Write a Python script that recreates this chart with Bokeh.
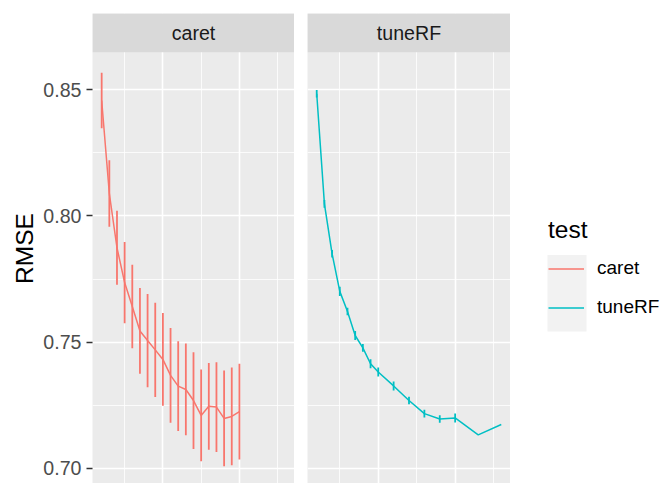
from bokeh.plotting import figure
from bokeh.layouts import row
from bokeh.models import (Range1d, FixedTicker, ColumnDataSource, Label, BoxAnnotation,
                          Legend, LegendItem, NumeralTickFormatter)
from bokeh.embed import file_html
from bokeh.resources import INLINE

# ---------------- data ----------------
panels = ["caret", "tuneRF"]
legend_title = "test"
y_label = "RMSE"

caret_x = [2, 3, 4, 5, 6, 7, 8, 9, 10, 11, 12, 13, 14, 15, 16, 17, 18, 19, 20]
caret_rmse = [0.8458, 0.8089, 0.7874, 0.7736, 0.7641, 0.7544, 0.7506, 0.7469, 0.7431, 0.7368,
              0.7325, 0.7312, 0.7268, 0.7209, 0.7245, 0.7242, 0.7197, 0.7205, 0.7224]
caret_sd = [0.0110, 0.0132, 0.0147, 0.0161, 0.0166, 0.0170, 0.0185, 0.0187, 0.0184, 0.0188,
            0.0178, 0.0182, 0.0192, 0.0182, 0.0172, 0.0178, 0.0190, 0.0194, 0.0190]

tune_x = [2, 3, 4, 5, 6, 7, 8, 9, 10, 12, 14, 16, 18, 20, 23, 26]
tune_rmse = [0.8485, 0.8048, 0.7850, 0.7701, 0.7621, 0.7526, 0.7477, 0.7414, 0.7381, 0.7326,
             0.7268, 0.7216, 0.7195, 0.7199, 0.7132, 0.7173]
tune_sd = [0.0015, 0.0015, 0.0015, 0.0018, 0.0015, 0.0018, 0.0015, 0.0018, 0.0018, 0.0018,
           0.0015, 0.0015, 0.0015, 0.0018, 0.0, 0.0]

y_ticks = [0.70, 0.75, 0.80, 0.85]
y_tick_labels = ["0.70", "0.75", "0.80", "0.85"]
y_minor = [0.725, 0.775, 0.825]
x_major = [10, 20]
x_minor = [5, 15, 25]

colors = ["#F8766D", "#00BFC4"]

# ---------------- layout constants ----------------
X_RANGE = (0.8, 27.2)
Y_RANGE = (0.6939, 0.8803)
STRIP_BOTTOM = 0.8649
H = 483
FONT = "Liberation Sans"


def make_panel(width, min_left, name, xs, ys, sds, color, show_y):
    p = figure(width=width, height=H, x_range=Range1d(*X_RANGE), y_range=Range1d(*Y_RANGE),
               output_backend="svg", toolbar_location=None,
               x_axis_location=None, y_axis_location=("left" if show_y else None),
               min_border_left=min_left, min_border_right=0, min_border_top=13, min_border_bottom=0,
               background_fill_color="#EBEBEB", border_fill_color="white", outline_line_color=None)
    p.xgrid.ticker = FixedTicker(ticks=x_major, minor_ticks=x_minor)
    p.ygrid.ticker = FixedTicker(ticks=y_ticks, minor_ticks=y_minor)
    for g in (p.xgrid, p.ygrid):
        g.grid_line_color = "white"
        g.grid_line_width = 1.6
        g.minor_grid_line_color = "white"
        g.minor_grid_line_width = 0.8
    if show_y:
        ax = p.yaxis[0]
        ax.ticker = FixedTicker(ticks=y_ticks)
        ax.formatter = NumeralTickFormatter(format="0.00")
        ax.major_label_overrides = dict(zip(y_ticks, y_tick_labels))
        ax.axis_line_color = None
        ax.major_tick_line_color = "#333333"
        ax.major_tick_line_width = 1.5
        ax.major_tick_out = 6
        ax.major_tick_in = 0
        ax.minor_tick_line_color = None
        ax.major_label_standoff = 5
        ax.major_label_text_font = FONT
        ax.major_label_text_font_size = "19.6px"
        ax.major_label_text_color = "#4D4D4D"
        ax.axis_label = y_label
        ax.axis_label_text_font = FONT
        ax.axis_label_text_font_size = "24.5px"
        ax.axis_label_text_font_style = "normal"
        ax.axis_label_text_color = "black"
        ax.axis_label_standoff = 2

    src = ColumnDataSource(dict(
        x=xs, y=ys,
        lo=[m - s for m, s in zip(ys, sds)],
        hi=[m + s for m, s in zip(ys, sds)],
    ))
    p.segment(x0="x", y0="lo", x1="x", y1="hi", source=src, line_color=color, line_width=1.8)
    p.line(x="x", y="y", source=src, line_color=color, line_width=1.5)

    # facet strip
    p.add_layout(BoxAnnotation(bottom=STRIP_BOTTOM, top=Y_RANGE[1], left=X_RANGE[0], right=X_RANGE[1],
                               fill_color="#D9D9D9", fill_alpha=1.0, line_color=None))
    p.add_layout(Label(x=(X_RANGE[0] + X_RANGE[1]) / 2, y=(STRIP_BOTTOM + Y_RANGE[1]) / 2,
                       text=name, text_align="center", text_baseline="middle",
                       text_font=FONT, text_font_size="19.6px", text_color="#1A1A1A"))
    return p


p1 = make_panel(294, 92, panels[0], caret_x, caret_rmse, caret_sd, colors[0], True)
p2 = make_panel(216, 13, panels[1], tune_x, tune_rmse, tune_sd, colors[1], False)

# legend panel (screen-like coordinates: 1 unit = 1 px)
W3 = 151
p3 = figure(width=W3, height=H, x_range=Range1d(0, W3), y_range=Range1d(0, H),
            output_backend="svg", toolbar_location=None, x_axis_location=None, y_axis_location=None,
            min_border=0, outline_line_color=None, background_fill_color="white",
            border_fill_color="white")
p3.grid.visible = False
p3.add_layout(BoxAnnotation(left=37, right=76, bottom=156.3, top=234.7,
                            fill_color="#F2F2F2", fill_alpha=1.0, line_color=None, level="underlay"))
items = []
for name, c in zip(panels, colors):
    r = p3.line(x=[float("nan")], y=[float("nan")], line_color=c, line_width=1.5)
    items.append(LegendItem(label=name, renderers=[r]))
leg = Legend(items=items, location=(38, 156.3), title=legend_title,
             border_line_color=None, background_fill_alpha=0, padding=0, margin=0, spacing=0,
             glyph_width=36, glyph_height=39, label_height=39, label_standoff=13,
             label_text_font=FONT, label_text_font_size="19px", label_text_baseline="middle",
             label_text_color="black",
             title_text_font=FONT, title_text_font_size="24.5px", title_text_font_style="normal",
             title_text_color="black", title_standoff=5)
p3.add_layout(leg)

layout = row(p1, p2, p3)
open("out.html", "w").write(file_html(layout, INLINE))
